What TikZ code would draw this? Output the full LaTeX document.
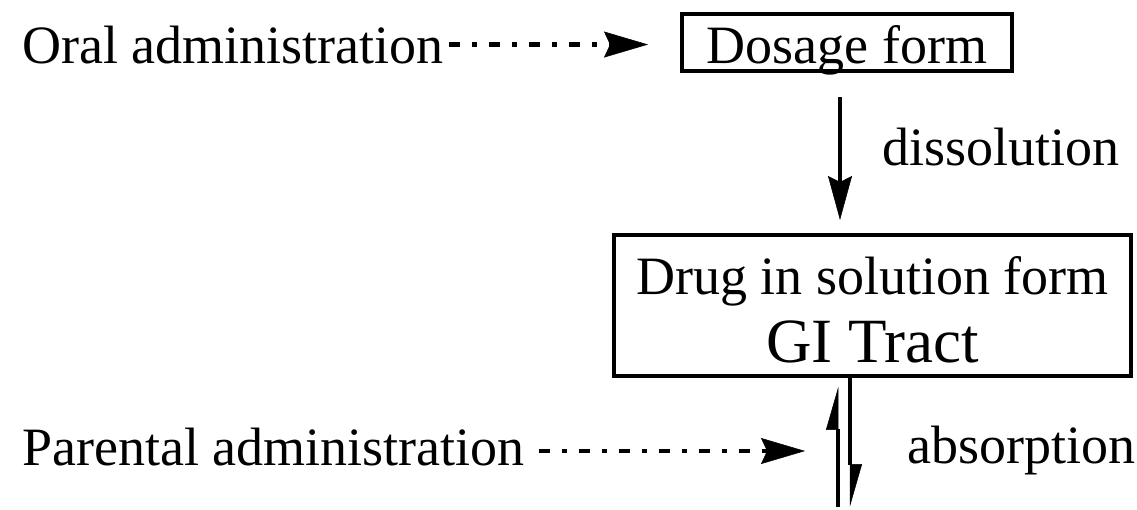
\documentclass[tikz,border=0pt]{standalone}
\usepackage{fontspec}
\setmainfont{Liberation Serif}
\usetikzlibrary{arrows.meta,calc}
\begin{document}
\begin{tikzpicture}[x=1pt,y=-1pt,
  lbl/.style={inner sep=0pt,font=\fontsize{54}{60}\selectfont},
  bigl/.style={inner sep=0pt,font=\fontsize{63}{70}\selectfont},
  boxst/.style={draw,line width=4pt,inner sep=0pt,rectangle},
  conn/.style={line width=4pt,-{Stealth[length=44pt,width=24pt,inset=6pt,line width=0.5pt]}},
  dotarr/.style={line width=4.5pt,dash pattern=on 11pt off 12pt on 5pt off 12pt,
     -{Stealth[length=44pt,width=26pt,inset=6pt,line width=0.5pt,sep=0pt]}},
  harp/.style={line width=4pt,-{Triangle[harpoon,length=42pt,width=24pt,line width=0.5pt]}}]
\useasboundingbox (0,0) rectangle (1137,509);
% nodes
\node[lbl,anchor=base west] (oral) at (22,63) {Oral administration};
\node[boxst,minimum width=330pt,minimum height=57pt] (dose) at (847,42.5) {};
\node[lbl,anchor=base] (dosetxt) at (dose.center |- 0,63) {Dosage form};
\node[lbl,anchor=base west] (diss) at (882,165) {dissolution};
\node[boxst,minimum width=517pt,minimum height=141pt] (gi) at (872.5,305.5) {};
\node[lbl,anchor=base] (gitxt1) at (gi.center |- 0,294) {Drug in solution form};
\node[bigl,anchor=base] (gitxt2) at (gi.center |- 0,362) {GI Tract};
\node[lbl,anchor=base west] (par) at (22,465) {Parental administration};
\node[lbl,anchor=base west] (abs) at (907,463) {absorption};
\coordinate (ab1) at (850,507);
\coordinate (ab2) at (838,507);
\coordinate (parend) at (805,451);
% connectors
\draw[dotarr,shorten <=5pt] (oral.east) -- ($(oral.east -| dose.west)+(-32,0)$);
\draw[conn] ($(dose.south)+(-7,24)$) -- ($(gi.north)+(-32.5,-13)$);
\draw[dotarr] ($(par.base east)+(14,-14)$) -- (parend);
\draw[harp] (gi.south -| ab1) -- (ab1);
\draw[harp,shorten >=9pt] (ab2) -- (gi.south -| ab2);
\end{tikzpicture}
\end{document}
